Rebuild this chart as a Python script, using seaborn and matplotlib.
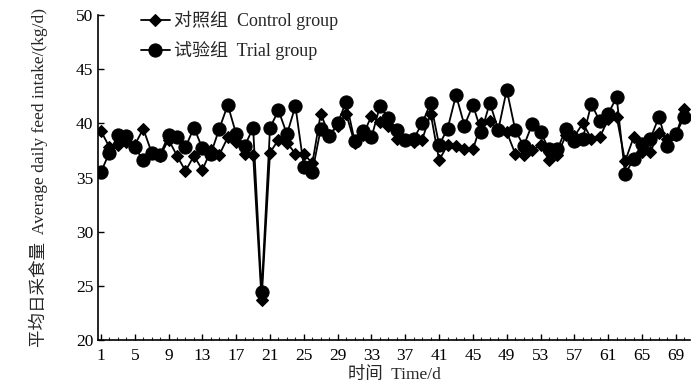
import matplotlib
matplotlib.use("Agg")
import matplotlib.pyplot as plt
import seaborn as sns
import pandas as pd
import numpy as np
from matplotlib.ticker import MultipleLocator, FixedLocator

days = list(range(1, 71))
control = [39.3, 37.8, 38.0, 38.3, 38.0, 39.5, 37.3, 37.0, 38.5, 37.0,
           35.6, 37.0, 35.7, 37.5, 37.1, 38.7, 38.3, 37.2, 37.1, 23.7,
           37.3, 38.5, 38.2, 37.2, 37.2, 36.3, 40.9, 38.9, 39.8, 40.9,
           38.2, 38.9, 40.7, 40.1, 39.8, 38.6, 38.5, 38.3, 38.5, 40.9,
           36.6, 38.0, 37.9, 37.6, 37.6, 40.0, 40.2, 39.4, 39.2, 37.2,
           37.1, 37.5, 38.0, 36.6, 37.1, 38.9, 38.8, 40.0, 38.6, 38.7,
           40.4, 40.6, 36.5, 38.7, 37.4, 37.4, 39.1, 38.6, 38.9, 41.3]
trial = [35.5, 37.3, 38.9, 38.8, 37.8, 36.6, 37.3, 37.1, 38.9, 38.7,
         37.8, 39.6, 37.7, 37.2, 39.5, 41.7, 39.0, 37.9, 39.6, 24.4,
         39.6, 41.2, 39.0, 41.6, 36.0, 35.5, 39.5, 38.8, 40.0, 42.0,
         38.4, 39.3, 38.7, 41.6, 40.5, 39.4, 38.5, 38.6, 40.0, 41.9,
         38.0, 39.5, 42.6, 39.8, 41.7, 39.2, 41.9, 39.4, 43.1, 39.4,
         37.9, 39.9, 39.2, 37.6, 37.6, 39.5, 38.4, 38.6, 41.8, 40.2,
         40.9, 42.4, 35.3, 36.7, 38.1, 38.6, 40.6, 37.9, 39.0, 40.6]
labels = ["对照组  Control group", "试验组  Trial group"]
xticks = list(range(1, 70, 4))
yticks = [20, 25, 30, 35, 40, 45, 50]

sns.set_theme(style="white")
fonts = ["Liberation Serif", "Noto Sans CJK SC"]
plt.rcParams["font.family"] = fonts
plt.rcParams["axes.unicode_minus"] = False

df = pd.DataFrame({
    "day": days * 2,
    "value": control + trial,
    "group": [labels[0]] * len(days) + [labels[1]] * len(days),
})

fig = plt.figure(figsize=(7, 3.91), dpi=100)
ax = fig.add_axes([0.14, 0.1304, 0.846, 0.8312])

sns.lineplot(data=df[df.group == labels[0]], x="day", y="value", ax=ax,
             color="black", marker="D", markersize=6.5, linewidth=1.3,
             markeredgecolor="black", label=labels[0])
sns.lineplot(data=df[df.group == labels[1]], x="day", y="value", ax=ax,
             color="black", marker="o", markersize=9.5, linewidth=1.3,
             markeredgecolor="black", label=labels[1])

ax.set_xlim(0.65, 70.7)
ax.set_ylim(20, 50)
ax.xaxis.set_major_locator(FixedLocator(xticks))
ax.xaxis.set_minor_locator(MultipleLocator(1))
ax.set_yticks(yticks)
ax.tick_params(axis="both", which="major", direction="in", length=4,
               width=1, colors="black", labelsize=12.5, left=True, bottom=True)
ax.tick_params(axis="x", which="minor", direction="in", length=2.5,
               width=0.8, bottom=True)
ax.tick_params(axis="x", pad=6)
for s in ["top", "right"]:
    ax.spines[s].set_visible(False)
for s in ["left", "bottom"]:
    ax.spines[s].set_color("black")
    ax.spines[s].set_linewidth(1.2)

ax.set_xlabel("时间  Time/d", fontsize=12.5, labelpad=2)
ax.set_ylabel("平均日采食量  Average daily feed intake/(kg/d)", fontsize=12.6,
              labelpad=20)

leg = ax.legend(loc="upper left", bbox_to_anchor=(0.06, 1.035), frameon=False,
                fontsize=13, handlelength=1.6, handletextpad=0.25,
                labelspacing=0.6, borderaxespad=0)

fig.savefig("out.png", dpi=100)
